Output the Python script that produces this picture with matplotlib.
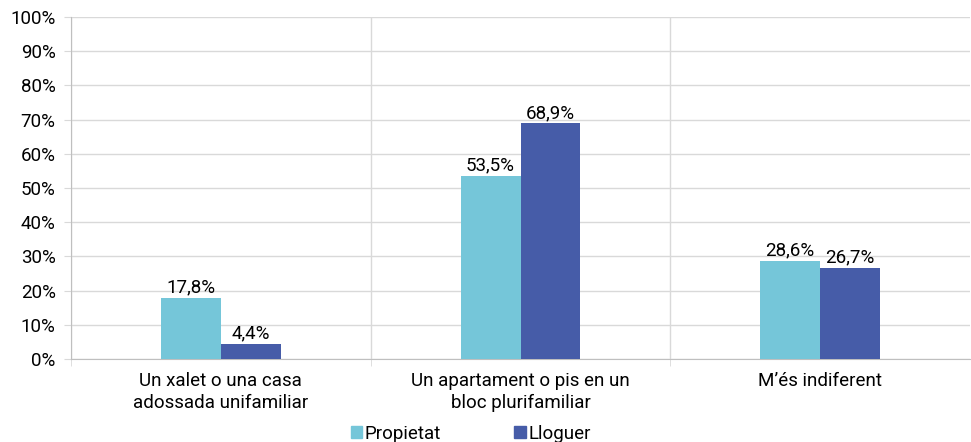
import numpy as np
import matplotlib
matplotlib.use('Agg')
import matplotlib.pyplot as plt
from matplotlib.patches import Patch

categories = ['Un xalet o una casa\nadossada unifamiliar',
              'Un apartament o pis en un\nbloc plurifamiliar',
              'M\u2019és indiferent']
propietat = [17.8, 53.5, 28.6]
lloguer = [4.4, 68.9, 26.7]
labels_prop = ['17,8%', '53,5%', '28,6%']
labels_llog = ['4,4%', '68,9%', '26,7%']
yticks = list(range(0, 101, 10))

c_prop = '#75C6D9'
c_llog = '#465CA8'
grid_c = '#D9D9D9'
fs = 13.5

plt.rcParams['font.family'] = ['Roboto', 'DejaVu Sans']

fig = plt.figure(figsize=(9.71, 4.42), dpi=100)
ax = fig.add_axes([71 / 971, 1 - 359 / 442, 899 / 971, (359 - 17) / 442])

x = np.arange(len(categories))
w = 0.2
b1 = ax.bar(x - w / 2, propietat, w, color=c_prop, zorder=3)
b2 = ax.bar(x + w / 2, lloguer, w, color=c_llog, zorder=3)

for rect, lab in zip(b1, labels_prop):
    ax.annotate(lab, (rect.get_x() + rect.get_width() / 2, rect.get_height()),
                xytext=(0, 1), textcoords='offset points', ha='center', va='bottom', fontsize=fs)
for rect, lab in zip(b2, labels_llog):
    ax.annotate(lab, (rect.get_x() + rect.get_width() / 2, rect.get_height()),
                xytext=(0, 1), textcoords='offset points', ha='center', va='bottom', fontsize=fs)

ax.set_xlim(-0.5, 2.5)
ax.set_ylim(0, 100)
ax.set_yticks(yticks)
ax.set_yticklabels([f'{t}%' for t in yticks], fontsize=fs)
ax.set_xticks(x)
ax.set_xticklabels(categories, fontsize=fs, linespacing=1.3)
ax.set_xticks([-0.5, 0.5, 1.5], minor=True)

ax.yaxis.grid(True, color=grid_c, linewidth=1, zorder=0)
ax.xaxis.grid(True, which='minor', color=grid_c, linewidth=1, zorder=0)
ax.tick_params(axis='x', which='major', length=0, pad=9)
ax.tick_params(axis='x', which='minor', length=5, color=grid_c, direction='out')
ax.tick_params(axis='y', length=5, color=grid_c, pad=6)

for s in ['top', 'right']:
    ax.spines[s].set_visible(False)
for s in ['left', 'bottom']:
    ax.spines[s].set_color('#BFBFBF')

handles = [Patch(color=c_prop, label='Propietat'), Patch(color=c_llog, label='Lloguer')]
fig.legend(handles=handles, loc='lower center', bbox_to_anchor=(0.485, -0.04), ncol=2,
           frameon=False, fontsize=fs, handlelength=0.6, handleheight=0.6,
           handletextpad=0.15, columnspacing=3.9)

fig.savefig('out.png', dpi=100)
